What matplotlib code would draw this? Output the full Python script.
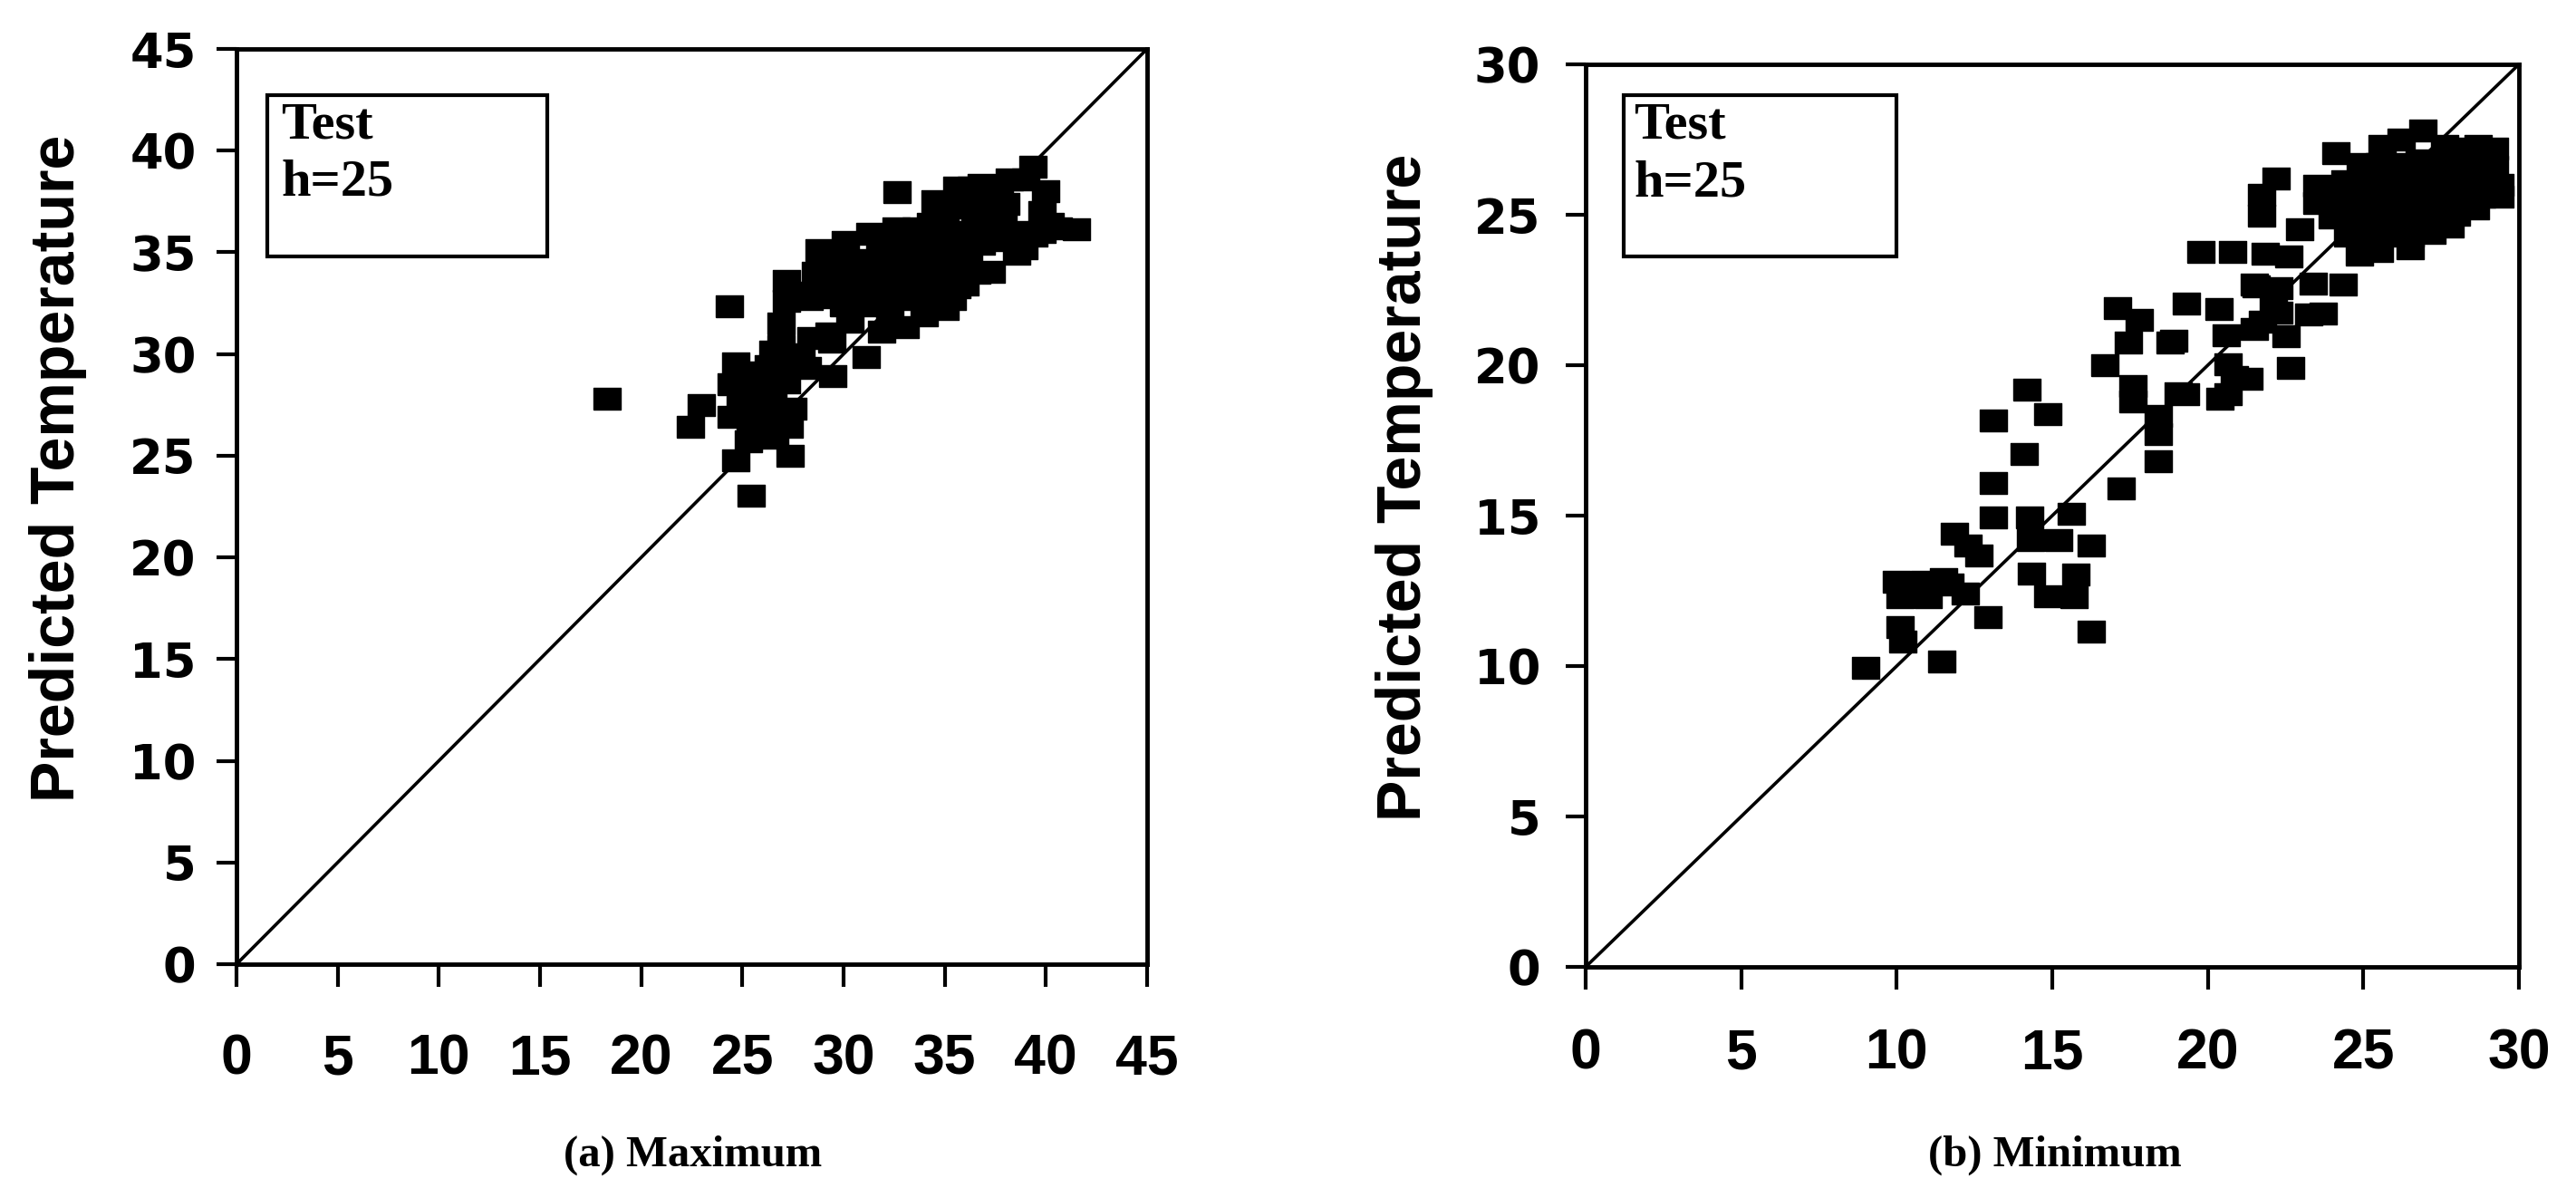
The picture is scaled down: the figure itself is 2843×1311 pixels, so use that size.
import matplotlib
matplotlib.use("Agg")
import matplotlib.pyplot as plt
from matplotlib import font_manager as fm
from matplotlib.patches import Rectangle

# ---------------- data ----------------
max_obs = [18.3, 22.45, 22.97, 24.43, 24.67, 27.34, 25.42, 29.48, 31.12, 24.35, 32.63, 27.5,
           24.65, 24.43, 25.4, 25.6, 26.3, 26.5, 25.4, 26.4, 25.3, 26.6, 27.3, 24.9, 27.2, 26.9, 27.9,
           25.5, 26.4, 26.5, 27.4, 28.2, 26.0, 25.0, 26.0,
           26.9, 27.2, 27.2, 28.0, 28.4, 28.3,
           28.8, 28.6, 29.3, 29.2, 29.3, 30.3, 31.3, 29.4, 29.6, 29.4, 30.0, 29.9,
           30.1, 30.6, 31.3, 31.8, 30.4, 31.2, 32.0, 30.8, 31.0, 30.9, 31.7,
           32.6, 33.6, 32.5, 33.4, 34.2, 32.8, 33.7, 32.5, 33.5, 34.3, 31.9, 33.05, 34.0, 32.3, 33.0,
           34.2, 34.3, 32.3, 33.1, 33.9,
           34.5, 35.0, 35.2, 34.9, 35.6, 35.0, 35.6, 36.0, 35.9, 36.2, 35.36, 35.3, 35.4, 34.6, 34.6,
           35.7, 36.0,
           36.8, 37.7, 36.9, 37.5, 36.8, 37.3, 36.6, 37.9, 36.3, 36.4, 37.4, 36.5, 37.9,
           38.2, 39.0, 39.37, 38.0, 39.8, 38.6, 39.4, 38.54, 40.0, 39.8, 38.0, 40.2, 38.9,
           40.6, 41.52]
max_pred = [27.8, 26.4, 27.5, 26.9, 24.78, 25.0, 23.02, 28.93, 29.84, 32.33, 37.95, 27.3,
            29.55, 28.5, 29.1, 28.0, 29.4, 28.3, 26.5, 26.8, 25.7, 25.9, 26.4, 27.4, 28.6, 30.4, 30.0,
            27.2, 27.5, 30.1, 29.5, 29.3, 27.4, 28.9, 26.1,
            31.5, 32.6, 33.6, 33.0, 30.8, 32.7,
            35.1, 34.0, 33.2, 32.8, 31.0, 31.6, 32.4, 34.2, 35.0, 30.6, 32.4, 33.9,
            35.5, 34.5, 35.9, 34.8, 33.3, 33.6, 33.3, 32.6, 34.6, 33.1, 33.9,
            36.2, 36.2, 35.1, 35.0, 35.3, 34.0, 33.8, 32.9, 32.7, 32.5, 31.1, 31.3, 31.9, 32.0, 33.6,
            33.3, 36.4, 34.6, 35.6, 34.4,
            37.5, 36.5, 35.3, 34.2, 33.3, 32.2, 38.2, 37.2, 36.0, 34.6, 32.7, 34.3, 37.4, 33.0, 35.9,
            34.9, 33.4,
            38.3, 38.2, 37.0, 36.1, 35.4, 34.05, 34.0, 37.1, 38.2, 35.5, 37.3, 36.4, 35.7,
            38.6, 38.6, 39.2, 37.4, 37.0, 36.0, 35.8, 34.95, 38.0, 36.0, 35.6, 36.4, 35.2,
            36.2, 36.15]

min_obs = [9.01, 10.1, 10.2, 11.46, 12.94, 16.25,
           10.0, 10.1, 10.9, 11.0, 11.7, 12.2, 11.5, 10.5,
           11.86, 12.3, 12.65,
           13.1, 14.28, 15.6, 16.25,
           14.3, 15.2, 14.33, 14.86, 15.77, 15.7,
           13.1, 14.09, 17.22, 18.4,
           13.1, 14.17, 14.86,
           16.7, 17.1, 17.8, 17.45, 17.6, 17.6, 18.4, 18.4, 18.8, 18.9, 19.05, 19.28, 19.31, 20.36,
           20.6, 20.65, 21.32, 20.65, 20.86, 20.4, 21.5, 21.5, 22.1, 21.77, 22.5, 22.67, 23.25,
           23.72, 22.28,
           19.79, 20.8, 21.85, 22.6,
           21.56, 22.28, 23.38, 24.36,
           21.72, 21.72, 22.2, 23.5, 23.5, 22.95, 24.12,
           25.6, 26.2, 26.9, 27.6, 28.2, 28.7, 29.2,
           24.9, 25.5, 26.1, 26.8, 27.4, 28.0, 28.6, 29.2,
           24.4, 25.0, 25.7, 26.4, 27.0, 27.6, 28.3, 28.9, 29.4,
           24.2, 24.8, 25.5, 26.2, 26.8, 27.5, 28.1, 28.8, 29.4,
           24.0, 24.7, 25.4, 26.0, 26.7, 27.3, 28.0, 28.6,
           24.5, 25.2, 25.9, 26.5, 27.2, 27.8,
           24.87, 25.5, 26.5]
min_pred = [9.95, 11.3, 10.8, 10.15, 11.62, 11.14,
            12.8, 12.3, 12.8, 12.3, 12.7, 12.4, 12.9, 12.6,
            14.41, 14.0, 13.68,
            14.93, 14.93, 15.05, 14.0,
            14.2, 14.2, 13.08, 12.32, 13.03, 12.3,
            16.09, 17.05, 15.89, 16.8,
            18.17, 19.2, 18.38,
            20.0, 21.9, 21.5, 20.75, 19.3, 18.8, 18.3, 17.7, 20.75, 20.8, 19.08, 19.03, 22.06, 21.86,
            21.0, 20.04, 19.54, 19.03, 19.6, 18.9, 21.2, 22.67, 22.16, 21.45, 20.95, 19.9, 21.7,
            21.71, 21.76,
            23.78, 23.78, 23.7, 23.6,
            22.62, 22.57, 22.72, 22.67,
            25.67, 24.97, 26.2, 25.95, 25.4, 24.53, 27.06,
            27.3, 27.5, 27.8, 27.3, 27.2, 27.3, 27.2,
            26.7, 26.7, 26.7, 26.8, 26.7, 26.7, 26.6, 26.6,
            26.1, 26.1, 26.1, 26.1, 26.1, 26.1, 26.1, 26.0, 26.0,
            25.5, 25.5, 25.5, 25.5, 25.5, 25.5, 25.5, 25.6, 25.6,
            24.9, 24.9, 24.9, 24.9, 24.9, 24.9, 25.0, 25.2,
            24.3, 24.3, 24.3, 24.3, 24.4, 24.6,
            23.68, 23.8, 23.9]

max_limit = 45
min_limit = 30
tick_step = 5
panel_titles = ["(a) Maximum", "(b) Minimum"]
ylabel_text = "Predicted Temperature"
legend_lines = ["Test", "h=25"]

# ---------------- fonts ----------------
names = {f.name for f in fm.fontManager.ttflist}
narrow = None
for cand in ["Liberation Sans Narrow", "DejaVu Sans Condensed", "Arial Narrow"]:
    if cand in names:
        narrow = cand
        break
sans = "Liberation Sans" if "Liberation Sans" in names else "DejaVu Sans"
serif = "Liberation Serif" if "Liberation Serif" in names else "DejaVu Serif"
if narrow is None:
    narrow = sans
    xtick_size = 45
    ylab_size = 49
else:
    xtick_size = 52
    ylab_size = 56
ytick_family = "DejaVu Sans"
ytick_size = 38

W, H = 2843, 1311
fig = plt.figure(figsize=(W / 100, H / 100), dpi=100)
fig.patch.set_facecolor("white")

rect_marker = [(-1, -0.78), (1, -0.78), (1, 0.78), (-1, 0.78), (-1, -0.78)]

panels = [
    dict(rect=[261 / W, 1 - 1064 / H, 1005 / W, 1010 / H], x=max_obs, y=max_pred, lim=max_limit,
         title=panel_titles[0], title_x=765 / W, ylab_x=64 / W, ylab_y=1 - 517 / H,
         box=(0.034, 0.773, 0.307, 0.177), tx=0.049, ty1=0.902, ty2=0.840, ypad=16, xpad=36),
    dict(rect=[1750 / W, 1 - 1067 / H, 1030 / W, 996 / H], x=min_obs, y=min_pred, lim=min_limit,
         title=panel_titles[1], title_x=2268 / W, ylab_x=1550 / W, ylab_y=1 - 538 / H,
         box=(0.041, 0.787, 0.292, 0.179), tx=0.052, ty1=0.918, ty2=0.854, ypad=20, xpad=30),
]

for p in panels:
    ax = fig.add_axes(p["rect"])
    lim = p["lim"]
    ax.set_xlim(0, lim)
    ax.set_ylim(0, lim)
    ax.axline((0, 0), slope=1, color="black", lw=2.6, zorder=2)
    ax.plot(p["x"], p["y"], linestyle="none", marker=rect_marker, ms=22,
            color="black", mec="black", zorder=3)
    ticks = list(range(0, lim + 1, tick_step))
    ax.set_xticks(ticks)
    ax.set_yticks(ticks)
    ax.set_xticklabels([str(t) for t in ticks], fontfamily=narrow, fontweight="bold",
                       fontsize=xtick_size)
    ax.set_yticklabels([str(t) for t in ticks], fontfamily=ytick_family, fontweight="bold",
                       fontsize=ytick_size)
    ax.tick_params(axis="x", direction="out", length=18, width=3, pad=p["xpad"])
    ax.tick_params(axis="y", direction="out", length=16, width=3, pad=p["ypad"])
    for s in ax.spines.values():
        s.set_linewidth(3.5)
        s.set_color("black")
    bx, by, bw, bh = p["box"]
    ax.add_patch(Rectangle((bx, by), bw, bh, transform=ax.transAxes, fill=False,
                           lw=3.0, ec="black", zorder=4))
    ax.text(p["tx"], p["ty1"], legend_lines[0], transform=ax.transAxes, ha="left", va="baseline",
            fontfamily=serif, fontweight="bold", fontsize=42, zorder=5)
    ax.text(p["tx"], p["ty2"], legend_lines[1], transform=ax.transAxes, ha="left", va="baseline",
            fontfamily=serif, fontweight="bold", fontsize=42, zorder=5)
    fig.text(p["ylab_x"], p["ylab_y"], ylabel_text, rotation=90, ha="center", va="center",
             fontfamily=narrow, fontweight="bold", fontsize=ylab_size)
    fig.text(p["title_x"], 1 - 1275 / H, p["title"], ha="center", va="center",
             fontfamily=serif, fontweight="bold", fontsize=35)

fig.savefig("out.png", dpi=100, facecolor="white")
